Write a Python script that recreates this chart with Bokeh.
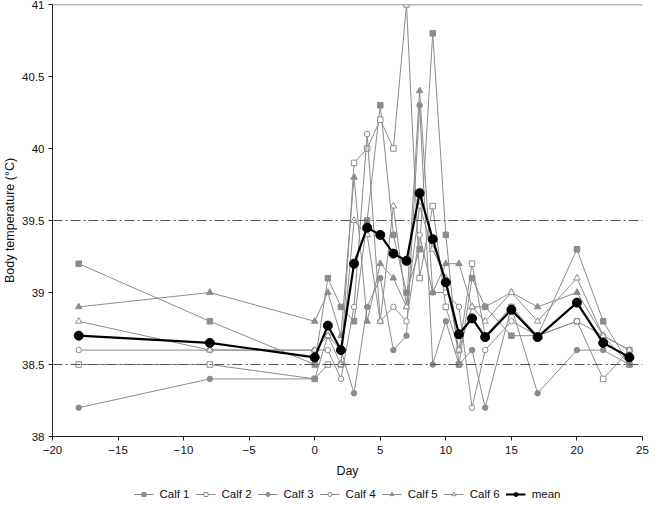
from bokeh.plotting import figure
from bokeh.layouts import column
from bokeh.models import (Range1d, FixedTicker, NumeralTickFormatter, Span,
                          Legend, LegendItem)
from bokeh.embed import file_html
from bokeh.resources import INLINE

days = [-18, -8, 0, 1, 2, 3, 4, 5, 6, 7, 8, 9, 10, 11, 12, 13, 15, 17, 20, 22, 24]
calf1 = [39.2, 38.8, 38.5, 39.1, 38.9, 38.8, 39.5, 40.3, 39.4, 39.0, 39.3, 40.8, 39.4, 38.5, 39.1, 38.9, 38.7, 38.7, 39.3, 38.8, 38.5]
calf2 = [38.5, 38.5, 38.4, 38.5, 38.5, 39.9, 40.0, 40.2, 40.0, 41.0, 39.1, 39.6, 38.9, 38.6, 39.2, 38.7, 38.9, 38.7, 38.8, 38.4, 38.6]
calf3 = [38.2, 38.4, 38.4, 38.7, 38.6, 38.3, 38.9, 39.1, 38.6, 38.7, 40.3, 38.5, 38.8, 38.5, 38.6, 38.2, 38.9, 38.3, 38.6, 38.6, 38.5]
calf4 = [38.6, 38.6, 38.6, 38.6, 38.4, 38.9, 40.1, 38.8, 38.9, 38.8, 39.4, 39.0, 39.0, 38.9, 38.2, 38.6, 38.8, 38.7, 38.8, 38.7, 38.6]
calf5 = [38.9, 39.0, 38.8, 39.0, 38.7, 39.8, 38.8, 39.2, 39.1, 38.9, 40.4, 39.0, 39.2, 39.2, 38.9, 38.9, 39.0, 38.9, 39.0, 38.7, 38.5]
calf6 = [38.8, 38.6, 38.6, 38.7, 38.5, 39.5, 39.4, 38.8, 39.6, 38.9, 39.6, 39.3, 39.1, 38.6, 38.9, 38.8, 39.0, 38.8, 39.1, 38.7, 38.6]
mean = [38.70, 38.65, 38.55, 38.77, 38.60, 39.20, 39.45, 39.40, 39.27, 39.22, 39.69, 39.37, 39.07, 38.71, 38.82, 38.69, 38.88, 38.69, 38.93, 38.65, 38.55]

names = ["Calf 1", "Calf 2", "Calf 3", "Calf 4", "Calf 5", "Calf 6"]
series = [calf1, calf2, calf3, calf4, calf5, calf6]
markers = ["square", "square", "circle", "circle", "triangle", "triangle"]
filled = [True, False, True, False, True, False]
ref_lines = [38.5, 39.5]

FONT = "Liberation Sans"
GRAY = "#8c8c8c"

p = figure(width=653, height=483, output_backend="svg", toolbar_location=None,
           x_range=Range1d(-20, 25), y_range=Range1d(38, 41),
           min_border_left=46, min_border_right=11, min_border_top=4,
           min_border_bottom=47)
p.xgrid.visible = False
p.ygrid.visible = False
p.outline_line_color = None
p.background_fill_color = "white"
p.border_fill_color = "white"

for ax in (p.xaxis[0], p.yaxis[0]):
    ax.axis_line_color = "#222222"
    ax.axis_line_width = 1
    ax.major_tick_line_color = "#222222"
    ax.major_tick_out = 4
    ax.major_tick_in = 0
    ax.minor_tick_line_color = None
    ax.major_label_text_font = FONT
    ax.major_label_text_font_size = "11.5px"
    ax.major_label_text_color = "#111111"
    ax.axis_label_text_font = FONT
    ax.axis_label_text_font_size = "12.5px"
    ax.axis_label_text_font_style = "normal"
    ax.axis_label_text_color = "#111111"

p.xaxis.ticker = FixedTicker(ticks=list(range(-20, 26, 5)))
p.yaxis.ticker = FixedTicker(ticks=[38, 38.5, 39, 39.5, 40, 40.5, 41])
p.yaxis.formatter = NumeralTickFormatter(format="0.[0]")
p.xaxis.axis_label = "Day"
p.yaxis.axis_label = "Body temperature (°C)"
p.xaxis.major_label_standoff = 5
p.xaxis.axis_label_standoff = 7
p.yaxis.major_label_standoff = 4
p.yaxis.axis_label_standoff = 2

p.add_layout(Span(location=41, dimension="width", line_color="#777777", line_width=1.5))
for r in ref_lines:
    p.add_layout(Span(location=r, dimension="width", line_color="#555555",
                      line_width=1, line_dash="10 3 2 3"))

for name, ys, mk, fl in zip(names, series, markers, filled):
    p.line(days, ys, line_color=GRAY, line_width=1)
    p.scatter(days, ys, marker=mk, size=5.5 if mk != "triangle" else 6.5,
              line_color=GRAY, fill_color=GRAY if fl else "white", line_width=1)
p.line(days, mean, line_color="black", line_width=2.2)
p.scatter(days, mean, marker="circle", size=9, fill_color="black", line_color="black")

# legend strip below the chart (its renderers use the same data, out of its view range)
lg = figure(width=653, height=22, output_backend="svg", toolbar_location=None,
            x_axis_type=None, y_axis_type=None, x_range=Range1d(100, 101), y_range=Range1d(100, 101),
            min_border_left=0, min_border_right=0, min_border_top=0, min_border_bottom=0)
lg.xgrid.visible = False
lg.ygrid.visible = False
lg.outline_line_color = None

items = []
for name, ys, mk, fl in zip(names, series, markers, filled):
    ln = lg.line(days, ys, line_color=GRAY, line_width=1)
    sc = lg.scatter(days, ys, marker=mk, size=5 if mk != "triangle" else 6,
                    line_color=GRAY, fill_color=GRAY if fl else "white", line_width=1)
    items.append(LegendItem(label=name, renderers=[ln, sc]))
ml = lg.line(days, mean, line_color="black", line_width=2.2)
ms = lg.scatter(days, mean, marker="circle", size=8, fill_color="black", line_color="black")
items.append(LegendItem(label="mean", renderers=[ml, ms]))

legend = Legend(items=items, orientation="horizontal", location="center",
                label_text_font=FONT, label_text_font_size="11.5px",
                label_text_color="#111111", glyph_width=20, glyph_height=10,
                spacing=6, label_standoff=6, padding=2, margin=0,
                border_line_color=None, background_fill_alpha=0)
lg.add_layout(legend)

layout = column(p, lg, spacing=0)
open("out.html", "w").write(file_html(layout, INLINE))
